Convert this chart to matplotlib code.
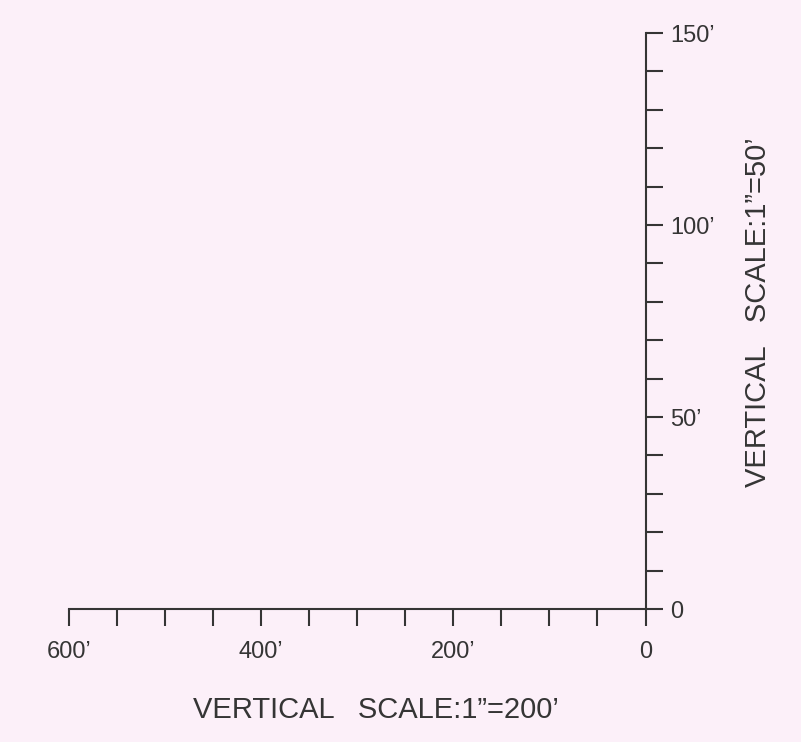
import matplotlib.pyplot as plt

# horizontal scale (feet), drawn right-to-left
horiz_ticks = list(range(0, 601, 50))
horiz_labels = {600: "600’", 400: "400’", 200: "200’", 0: "0"}

# vertical scale (feet)
vert_ticks = list(range(0, 151, 10))
vert_labels = {150: "150’", 100: "100’", 50: "50’", 0: "0"}

bottom_title = "VERTICAL   SCALE:1”=200’"
side_title = "VERTICAL   SCALE:1”=50’"

bg = "#fcf0f9"
ink = "#353535"

plt.rcParams['font.family'] = ['Liberation Sans', 'DejaVu Sans']

fig = plt.figure(figsize=(8.01, 7.42), dpi=100, facecolor=bg)
ax = fig.add_axes([69 / 801, (742 - 609) / 742, 576.5 / 801, 576 / 742])
ax.set_facecolor(bg)

ax.set_xlim(600, 0)
ax.set_ylim(0, 150)

for side in ['left', 'top']:
    ax.spines[side].set_visible(False)
for side in ['bottom', 'right']:
    ax.spines[side].set_linewidth(1.5)
    ax.spines[side].set_color(ink)

ax.set_xticks(horiz_ticks)
ax.set_xticklabels([horiz_labels.get(t, "") for t in horiz_ticks])
ax.yaxis.tick_right()
ax.set_yticks(vert_ticks)
ax.set_yticklabels([vert_labels.get(t, "") for t in vert_ticks])

ax.tick_params(axis='x', direction='out', length=12, width=1.5, color=ink,
               pad=11, labelsize=17, labelcolor=ink)
ax.tick_params(axis='y', direction='out', length=12, width=1.5, color=ink,
               pad=6, labelsize=17, labelcolor=ink)
for lbl in ax.get_yticklabels():
    lbl.set_horizontalalignment('left')

fig.text(376 / 801, (742 - 710) / 742, bottom_title, ha='center', va='center',
         fontsize=21, color=ink)
fig.text(758 / 801, (742 - 312) / 742, side_title, ha='center', va='center',
         rotation=90, fontsize=21, color=ink)

fig.savefig("out.png", dpi=100, facecolor=bg)
